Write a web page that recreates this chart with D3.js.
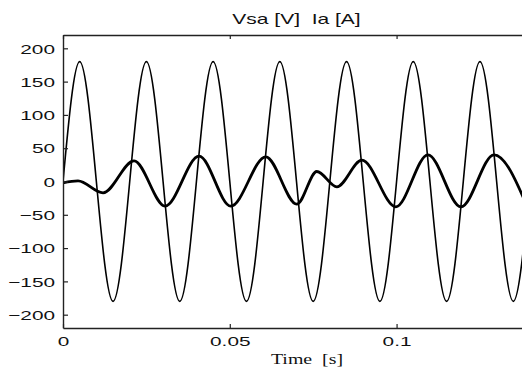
<!DOCTYPE html>
<html><head><meta charset="utf-8">
<script src="https://cdn.jsdelivr.net/npm/d3@7"></script>
<style>body{margin:0;background:#fff}</style></head>
<body><svg id="c" width="522" height="372"></svg>
<script>
// Vsa [V]: sampled at its start, peaks and troughs
const vsaTime  = [0, 0.005, 0.015, 0.025, 0.035, 0.045, 0.055, 0.065, 0.075, 0.085, 0.095, 0.105, 0.115, 0.125, 0.135, 0.14];
const vsaValue = [0, 180, -180, 180, -180, 180, -180, 180, -180, 180, -180, 180, -180, 180, -180, 0];
// Ia [A]: start, local extrema, end
const iaTime  = [0, 0.0045, 0.012, 0.0213, 0.0306, 0.0408, 0.0503, 0.0608, 0.0701, 0.0761, 0.0821, 0.0896, 0.0998, 0.1094, 0.1193, 0.1292, 0.1392];
const iaValue = [-2, 1, -17, 31, -37, 38, -37, 37, -34, 15, -8, 32, -38, 40, -38, 40, -38];
const yTicks = [-200, -150, -100, -50, 0, 50, 100, 150, 200];
const xTicks = [0, 0.05, 0.1];
const xTickLabels = ["0", "0.05", "0.1"];
const titleText = "Vsa [V]  Ia [A]";
const xLabelText = "Time  [s]";

const svg = d3.select("#c");
const m = {l: 63, t: 35, r: 530, b: 328};
const x = d3.scaleLinear().domain([0, 0.14]).range([m.l, m.r]);
const y = d3.scaleLinear().domain([-220, 220]).range([m.b, m.t]);

svg.append("rect").attr("width", 522).attr("height", 372).attr("fill", "#fff");

svg.append("clipPath").attr("id", "clip").append("rect")
  .attr("x", m.l).attr("y", m.t).attr("width", m.r - m.l).attr("height", m.b - m.t);

const plot = svg.append("g").attr("clip-path", "url(#clip)");

const line = d3.line().x(d => x(d[0])).y(d => y(d[1])).curve(d3.curveMonotoneX);

plot.append("path")
  .datum(vsaTime.map((t, i) => [t, vsaValue[i]]))
  .attr("d", line).attr("fill", "none").attr("stroke", "#000")
  .attr("stroke-width", 1.6).attr("stroke-linejoin", "round");

plot.append("path")
  .datum(iaTime.map((t, i) => [t, iaValue[i]]))
  .attr("d", line).attr("fill", "none").attr("stroke", "#000")
  .attr("stroke-width", 2.8).attr("stroke-linejoin", "round");

const sans = "'Liberation Sans', Arial, sans-serif";

function styleAxis(g) {
  g.selectAll("path.domain").attr("stroke", "#222").attr("stroke-width", 1.4);
  g.selectAll(".tick line").attr("stroke", "#222").attr("stroke-width", 1.2);
}

// left axis
const gl = svg.append("g").attr("transform", `translate(${m.l},0)`)
  .call(d3.axisLeft(y).tickValues(yTicks).tickFormat(d3.format("d")).tickSizeInner(-5).tickSizeOuter(0).tickPadding(8));
styleAxis(gl);
gl.selectAll(".tick text")
  .attr("x", 0).attr("dy", "0.36em")
  .attr("transform", "translate(-8,0) scale(1.6,1)")
  .attr("font-family", sans).attr("font-size", 13).attr("fill", "#111");

// bottom axis
const gb = svg.append("g").attr("transform", `translate(0,${m.b})`)
  .call(d3.axisBottom(x).tickValues(xTicks).tickFormat((d, i) => xTickLabels[i]).tickSizeInner(-4).tickSizeOuter(0));
styleAxis(gb);
gb.selectAll(".tick text")
  .attr("y", 0).attr("dy", 0)
  .attr("transform", "translate(0,18) scale(1.6,1)")
  .attr("font-family", sans).attr("font-size", 13).attr("fill", "#111");

// top axis (no labels)
const gt = svg.append("g").attr("transform", `translate(0,${m.t})`)
  .call(d3.axisTop(x).tickValues(xTicks).tickFormat("").tickSizeInner(-4).tickSizeOuter(0));
styleAxis(gt);

// right axis (beyond the visible window)
const gr = svg.append("g").attr("transform", `translate(${m.r},0)`)
  .call(d3.axisRight(y).tickValues(yTicks).tickFormat("").tickSizeInner(-5).tickSizeOuter(0));
styleAxis(gr);

// title
svg.append("text")
  .attr("transform", `translate(${(m.l + m.r) / 2},24) scale(1.5,1)`)
  .attr("text-anchor", "middle").style("white-space", "pre")
  .attr("font-family", sans).attr("font-size", 14).attr("fill", "#111")
  .text(titleText);

// x label
svg.append("text")
  .attr("transform", `translate(307,364) scale(1.42,1)`)
  .attr("text-anchor", "middle").style("white-space", "pre")
  .attr("font-family", "'Liberation Serif', 'Times New Roman', serif").attr("font-size", 14).attr("fill", "#111")
  .text(xLabelText);
</script>
</body></html>
